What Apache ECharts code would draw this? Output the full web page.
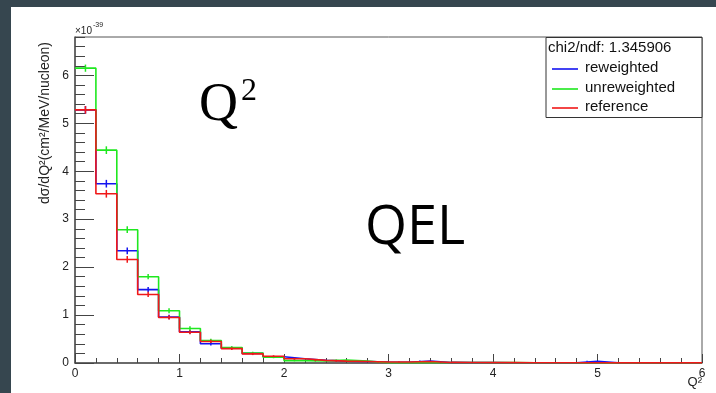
<!DOCTYPE html>
<html>
<head>
<meta charset="utf-8">
<script src="https://cdn.jsdelivr.net/npm/echarts@6.0.0/dist/echarts.min.js"></script>
<style>
  html, body { margin: 0; padding: 0; width: 716px; height: 393px; background: #36464f; overflow: hidden; }
  #chart { position: absolute; left: 11px; top: 7px; width: 705px; height: 386px; background: #ffffff; }
</style>
</head>
<body>
<div id="chart"></div>
<script>
// ---- data (bin low edges, Q^2 in GeV^2; values in 1e-39 cm^2/MeV/nucleon) ----
const binEdges = [0.0, 0.2, 0.4, 0.6, 0.8, 1.0, 1.2, 1.4, 1.6, 1.8,
                  2.0, 2.2, 2.4, 2.6, 2.8, 3.0, 3.2, 3.4, 3.6, 3.8,
                  4.0, 4.2, 4.4, 4.6, 4.8, 5.0, 5.2, 5.4, 5.6, 5.8];
const upperEdge = 6.0;
const reweighted = [5.28, 3.74, 2.34, 1.53, 0.96, 0.65, 0.40, 0.31, 0.20, 0.13,
                    0.09, 0.055, 0.04, 0.03, 0.02, 0.015, 0.04, 0.012, 0.010, 0.008,
                    0.006, 0.005, 0.005, 0.004, 0.035, 0.003, 0.003, 0.002, 0.002, 0.002];
const unreweighted = [6.15, 4.44, 2.78, 1.80, 1.09, 0.72, 0.47, 0.32, 0.21, 0.12,
                      0.05, 0.045, 0.06, 0.04, 0.004, 0.004, 0.004, 0.010, 0.009, 0.008,
                      0.007, 0.006, 0.005, 0.004, 0.004, 0.003, 0.003, 0.003, 0.002, 0.002];
const reference = [5.28, 3.53, 2.16, 1.43, 0.95, 0.64, 0.45, 0.30, 0.19, 0.14,
                   0.09, 0.055, 0.04, 0.03, 0.02, 0.02, 0.03, 0.012, 0.010, 0.008,
                   0.007, 0.006, 0.005, 0.004, 0.004, 0.003, 0.003, 0.003, 0.002, 0.002];
const errReweighted = [0.08, 0.08, 0.07, 0.055, 0.045, 0.04, 0.035, 0.03, 0.025, 0.02,
                       0.02, 0.015, 0.015, 0.01, 0.01, 0.01, 0.01, 0.008, 0.008, 0.006,
                       0.005, 0.005, 0.005, 0.004, 0.01, 0.003, 0.003, 0.002, 0.002, 0.002];
const errUnreweighted = [0.075, 0.08, 0.07, 0.055, 0.05, 0.045, 0.035, 0.03, 0.025, 0.02,
                         0.015, 0.015, 0.015, 0.01, 0.004, 0.004, 0.004, 0.006, 0.006, 0.005,
                         0.005, 0.004, 0.004, 0.003, 0.003, 0.003, 0.003, 0.002, 0.002, 0.002];
const errReference = [0.08, 0.08, 0.07, 0.055, 0.045, 0.04, 0.035, 0.03, 0.025, 0.02,
                      0.02, 0.015, 0.015, 0.01, 0.01, 0.01, 0.01, 0.008, 0.008, 0.006,
                      0.005, 0.005, 0.005, 0.004, 0.004, 0.003, 0.003, 0.002, 0.002, 0.002];
const seriesNames = ['reweighted', 'unreweighted', 'reference'];
const seriesColors = ['#1414f0', '#1fe81f', '#f01818'];
const chi2Text = 'chi2/ndf: 1.345906';
const yTitle = 'dσ/dQ²(cm²/MeV/nucleon)';
const xTitle = 'Q²';

// ---- build ----
const allVals = [reweighted, unreweighted, reference];
const allErr = [errReweighted, errUnreweighted, errReference];

function stepData(vals) {
  const d = binEdges.map((e, i) => [e, vals[i]]);
  d.push([upperEdge, vals[vals.length - 1]]);
  return d;
}
function errData(vals, errs) {
  return binEdges.map((e, i) => {
    const hi = (i + 1 < binEdges.length) ? binEdges[i + 1] : upperEdge;
    return [(e + hi) / 2, vals[i], errs[i]];
  });
}
function errRender(color) {
  return function (params, api) {
    const x = api.value(0), y = api.value(1), e = api.value(2);
    const p1 = api.coord([x, Math.max(0, y - e)]);
    const p2 = api.coord([x, y + e]);
    return { type: 'line', shape: { x1: p1[0], y1: p1[1], x2: p2[0], y2: p2[1] },
             style: { stroke: color, lineWidth: 1.5 } };
  };
}

const series = [];
for (let k = 0; k < 3; k++) {
  series.push({
    name: seriesNames[k], type: 'line', step: 'end', data: stepData(allVals[k]),
    xAxisIndex: 0, yAxisIndex: 0, showSymbol: false, symbol: 'none',
    lineStyle: { color: seriesColors[k], width: 1.6 }, itemStyle: { color: seriesColors[k] },
    z: 3 + k, silent: true, animation: false
  });
  series.push({
    name: seriesNames[k], type: 'custom', data: errData(allVals[k], allErr[k]),
    xAxisIndex: 0, yAxisIndex: 0, renderItem: errRender(seriesColors[k]),
    z: 3 + k, silent: true, animation: false
  });
}

const font = 'Liberation Sans, Arial, sans-serif';
const chart = echarts.init(document.getElementById('chart'), null, { renderer: 'canvas' });
chart.setOption({
  animation: false,
  backgroundColor: '#ffffff',
  grid: { left: 64, top: 30, right: 14, bottom: 30, show: true, borderColor: '#555', borderWidth: 1,
          outerBoundsMode: 'none', containLabel: false },
  xAxis: {
    type: 'value', min: 0, max: 6, interval: 1,
    axisLine: { show: true, onZero: false, lineStyle: { color: '#555', width: 1.5 } },
    axisTick: { show: true, inside: true, length: 9, lineStyle: { color: '#444', width: 1 } },
    minorTick: { show: true, splitNumber: 5, length: 5, lineStyle: { color: '#444', width: 1 } },
    axisLabel: { fontSize: 12, color: '#222', margin: 5, fontFamily: font },
    splitLine: { show: false }, minorSplitLine: { show: false }
  },
  yAxis: [{
    type: 'value', min: 0, max: 6.8, interval: 1, position: 'left',
    axisLine: { show: true, onZero: false, lineStyle: { color: '#555', width: 1.5 } },
    axisTick: { show: true, inside: true, length: 19, lineStyle: { color: '#444', width: 1 } },
    axisLabel: { fontSize: 12, color: '#222', margin: 6, fontFamily: font, showMaxLabel: false },
    splitLine: { show: false }
  }, {
    type: 'value', min: 0, max: 6.8, interval: 0.2, position: 'left', offset: 0,
    axisLine: { show: false },
    axisTick: { show: true, inside: true, length: 10, lineStyle: { color: '#444', width: 1 } },
    axisLabel: { show: false },
    splitLine: { show: false }
  }],
  series: series,
  graphic: [
    // exponent
    { type: 'text', x: 64, y: 24, style: { text: '×10', fontSize: 10, fontFamily: font, fill: '#222', align: 'left', verticalAlign: 'middle' } },
    { type: 'text', x: 82, y: 18, style: { text: '-39', fontSize: 7, fontFamily: font, fill: '#222', align: 'left', verticalAlign: 'middle' } },
    // y title
    { type: 'text', x: 34, y: 116, rotation: Math.PI / 2, style: { text: yTitle, fontSize: 14, fontFamily: font, fill: '#222', align: 'center', verticalAlign: 'middle' } },
    // x title
    { type: 'text', x: 691, y: 375, style: { text: xTitle, fontSize: 13, fontFamily: font, fill: '#222', align: 'right', verticalAlign: 'middle' } },
    // big labels
    { type: 'text', x: 188, y: 99, style: { text: 'Q', fontSize: 54, fontFamily: 'Liberation Serif, serif', fill: '#000', align: 'left', verticalAlign: 'middle' } },
    { type: 'text', x: 230, y: 85, style: { text: '2', fontSize: 32, fontFamily: 'Liberation Serif, serif', fill: '#000', align: 'left', verticalAlign: 'middle' } },
    { type: 'text', x: 354, y: 222, style: { text: 'QEL', fontSize: 54, fontFamily: 'Open Sans, sans-serif', fill: '#000', align: 'left', verticalAlign: 'middle' } },
    // legend box
    { type: 'rect', shape: { x: 535, y: 30.5, width: 156, height: 80 }, style: { fill: '#fff', stroke: '#333', lineWidth: 1 }, z: 10 },
    { type: 'text', x: 537, y: 41, z: 11, style: { text: chi2Text, fontSize: 15, fontFamily: font, fill: '#111', align: 'left', verticalAlign: 'middle' } },
    { type: 'line', z: 11, shape: { x1: 541, y1: 62, x2: 567, y2: 62 }, style: { stroke: seriesColors[0], lineWidth: 1.6 } },
    { type: 'text', x: 574, y: 61, z: 11, style: { text: seriesNames[0], fontSize: 15, fontFamily: font, fill: '#111', align: 'left', verticalAlign: 'middle' } },
    { type: 'line', z: 11, shape: { x1: 541, y1: 82, x2: 567, y2: 82 }, style: { stroke: seriesColors[1], lineWidth: 1.6 } },
    { type: 'text', x: 574, y: 81, z: 11, style: { text: seriesNames[1], fontSize: 15, fontFamily: font, fill: '#111', align: 'left', verticalAlign: 'middle' } },
    { type: 'line', z: 11, shape: { x1: 541, y1: 101, x2: 567, y2: 101 }, style: { stroke: seriesColors[2], lineWidth: 1.6 } },
    { type: 'text', x: 574, y: 100, z: 11, style: { text: seriesNames[2], fontSize: 15, fontFamily: font, fill: '#111', align: 'left', verticalAlign: 'middle' } }
  ]
});
</script>
</body>
</html>
